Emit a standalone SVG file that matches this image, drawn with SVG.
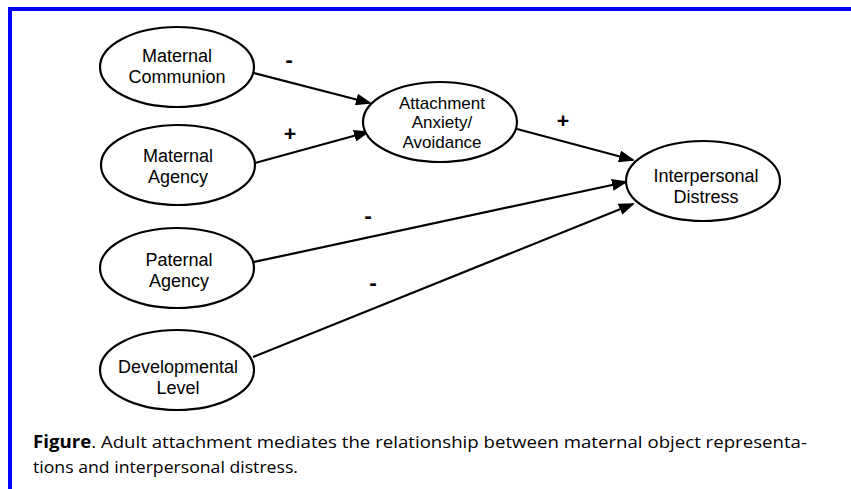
<svg xmlns="http://www.w3.org/2000/svg" width="851" height="489" viewBox="0 0 851 489">
<defs>
<style>
.node ellipse{fill:#fff;stroke:#000;stroke-width:2.2}
.node text{font-family:"Liberation Sans",Arial,sans-serif;font-size:18px;fill:#000;text-anchor:middle}
.node text.sm{font-size:17px}
.edge{stroke:#000;stroke-width:2.2;fill:none;marker-end:url(#arr)}
.sign{font-family:"Open Sans","Liberation Sans",sans-serif;font-size:22px;font-weight:bold;fill:#000;text-anchor:middle}
.cap{font-family:"Open Sans","Liberation Sans",sans-serif;font-size:17px;fill:#000}
</style>
<marker id="arr" markerUnits="userSpaceOnUse" markerWidth="16" markerHeight="12" refX="14" refY="6" orient="auto">
<path d="M0,0 L16,6 L0,12 z" fill="#000"/>
</marker>
</defs>
<rect x="0" y="0" width="851" height="489" fill="#fff"/>
<g id="border">
<rect x="8" y="7" width="843" height="4" fill="#0000ff"/>
<rect x="8" y="7" width="4" height="482" fill="#0000ff"/>
</g>
<g id="connectors">
<line class="edge" x1="254" y1="73" x2="370" y2="103"/>
<line class="edge" x1="255" y1="163" x2="368" y2="132"/>
<line class="edge" x1="517" y1="129" x2="633" y2="160"/>
<line class="edge" x1="254" y1="262" x2="626" y2="182"/>
<line class="edge" x1="253" y1="357" x2="633" y2="204"/>
<text class="sign" x="289" y="67">-</text>
<text class="sign" x="290" y="141">+</text>
<text class="sign" x="563" y="128">+</text>
<text class="sign" x="368" y="223">-</text>
<text class="sign" x="373" y="290">-</text>
</g>
<g id="maternal-communion" class="node">
<ellipse cx="177" cy="67" rx="77" ry="40"/>
<text x="177" y="62">Maternal</text>
<text x="177" y="83">Communion</text>
</g>
<g id="maternal-agency" class="node">
<ellipse cx="178" cy="165" rx="77" ry="40"/>
<text x="178" y="162">Maternal</text>
<text x="178" y="183">Agency</text>
</g>
<g id="attachment" class="node">
<ellipse cx="440" cy="122" rx="77" ry="40"/>
<text class="sm" x="442" y="108.5">Attachment</text>
<text class="sm" x="442" y="128">Anxiety/</text>
<text class="sm" x="442" y="147.5">Avoidance</text>
</g>
<g id="interpersonal-distress" class="node">
<ellipse cx="703" cy="181" rx="77" ry="40"/>
<text x="706" y="182">Interpersonal</text>
<text x="706" y="203">Distress</text>
</g>
<g id="paternal-agency" class="node">
<ellipse cx="177" cy="268" rx="77" ry="40"/>
<text x="179" y="266">Paternal</text>
<text x="179" y="287">Agency</text>
</g>
<g id="developmental-level" class="node">
<ellipse cx="177" cy="370" rx="77" ry="40"/>
<text x="178" y="373">Developmental</text>
<text x="178" y="394">Level</text>
</g>
<g id="caption">
<text class="cap" x="33" y="448" textLength="774" lengthAdjust="spacingAndGlyphs"><tspan font-weight="bold">Figure</tspan>. Adult attachment mediates the relationship between maternal object representa-</text>
<text class="cap" x="33" y="473" textLength="265" lengthAdjust="spacingAndGlyphs">tions and interpersonal distress.</text>
</g>
</svg>
